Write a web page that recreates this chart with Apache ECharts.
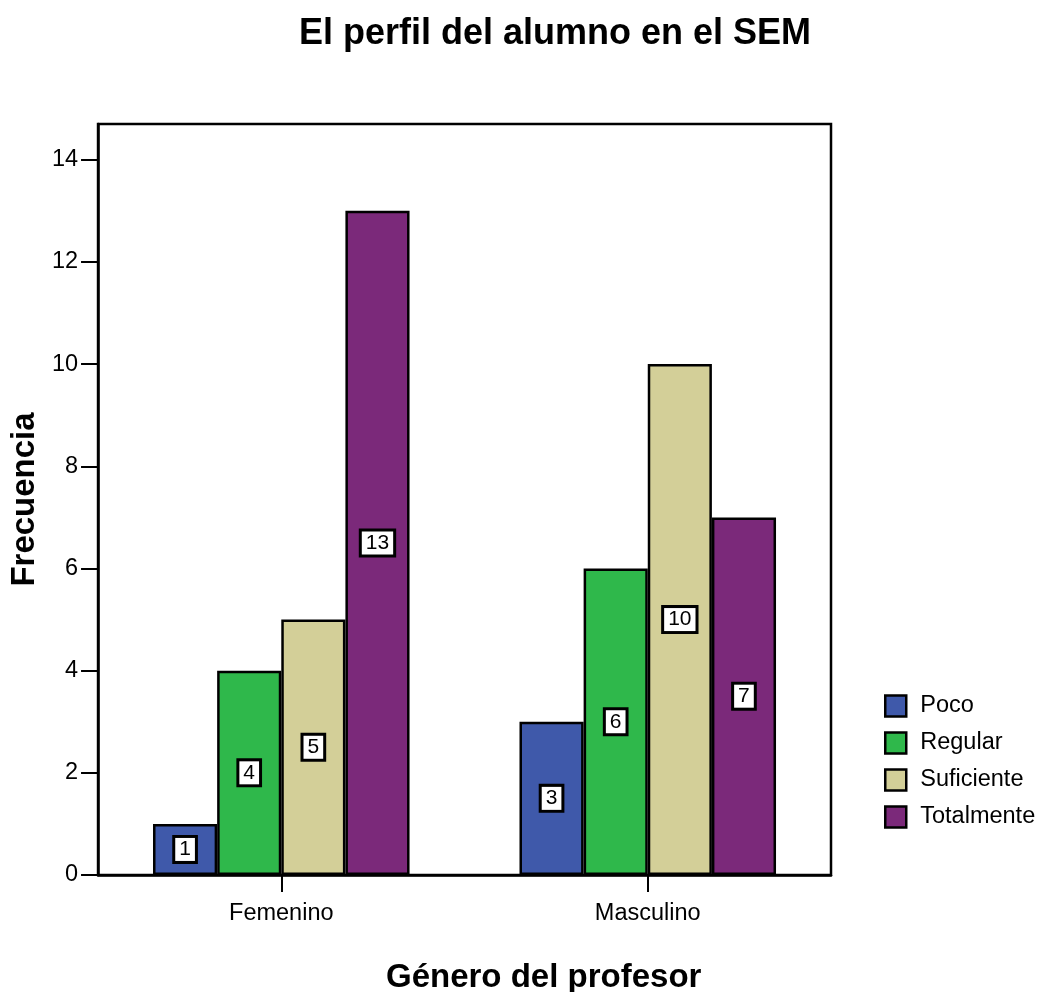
<!DOCTYPE html>
<html><head><meta charset="utf-8">
<script src="https://cdn.jsdelivr.net/npm/echarts@6/dist/echarts.min.js"></script>
<style>html,body{margin:0;padding:0;background:#fff}#c{width:1042px;height:992px}</style>
</head><body><div id="c"></div>
<script>
const categories = ['Femenino', 'Masculino'];
const seriesNames = ['Poco', 'Regular', 'Suficiente', 'Totalmente'];
const poco = [1, 3];
const regular = [4, 6];
const suficiente = [5, 10];
const totalmente = [13, 7];
const yTicks = [0, 2, 4, 6, 8, 10, 12, 14];
const colors = ['#3f59aa', '#2fb84b', '#d3cf98', '#7b297a'];
const values = [poco, regular, suficiente, totalmente];

const chart = echarts.init(document.getElementById('c'), null, {renderer: 'canvas'});
const ff = 'Liberation Sans, Arial, sans-serif';
chart.setOption({
  animation: false,
  textStyle: {fontFamily: ff},
  title: [
    {text: 'El perfil del alumno en el SEM', left: 299, top: 16, padding: 0,
     textStyle: {fontSize: 36, fontWeight: 'bold', color: '#000', fontFamily: ff}},
    {text: 'Género del profesor', left: 386, top: 961, padding: 0,
     textStyle: {fontSize: 33, fontWeight: 'bold', color: '#000', fontFamily: ff}}
  ],
  grid: {left: 98, right: 211, top: 124, bottom: 117, show: true,
         borderColor: '#000', borderWidth: 2.5, backgroundColor: 'transparent'},
  legend: {
    orient: 'vertical', left: 884, top: 694, padding: 0, itemWidth: 21, itemHeight: 21, itemGap: 13,
    icon: 'rect',
    data: seriesNames,
    itemStyle: {borderColor: '#000', borderWidth: 2.5},
    textStyle: {fontSize: 23.5, lineHeight: 21, color: '#000', fontFamily: ff, padding: [0, 0, 0, 9]}
  },
  xAxis: {
    type: 'category', data: categories,
    axisLine: {lineStyle: {color: '#000', width: 2.5}},
    axisTick: {show: true, alignWithLabel: true, length: 17, lineStyle: {color: '#000', width: 2}},
    axisLabel: {color: '#000', fontSize: 23.5, margin: 27, fontFamily: ff}
  },
  yAxis: {
    type: 'value', min: 0, max: 14.7, interval: 2,
    name: 'Frecuencia', nameLocation: 'middle', nameGap: 52, nameRotate: 90,
    nameTextStyle: {fontSize: 33, fontWeight: 'bold', color: '#000', fontFamily: ff},
    axisLine: {show: true, lineStyle: {color: '#000', width: 2.5}},
    axisTick: {show: true, length: 17, customValues: yTicks, lineStyle: {color: '#000', width: 2}},
    axisLabel: {color: '#000', fontSize: 23.5, margin: 20, customValues: yTicks, fontFamily: ff},
    splitLine: {show: false}
  },
  series: seriesNames.map((n, i) => ({
    name: n, type: 'bar', data: values[i],
    barGap: '0%', barCategoryGap: '30%',
    itemStyle: {color: colors[i], borderColor: '#000', borderWidth: 2.5},
    label: {
      show: true, position: 'inside', color: '#000', fontSize: 21, lineHeight: 21, fontFamily: ff,
      backgroundColor: '#fff', borderColor: '#000', borderWidth: 3, padding: [1, 4, 1, 4]
    }
  }))
});
</script></body></html>
